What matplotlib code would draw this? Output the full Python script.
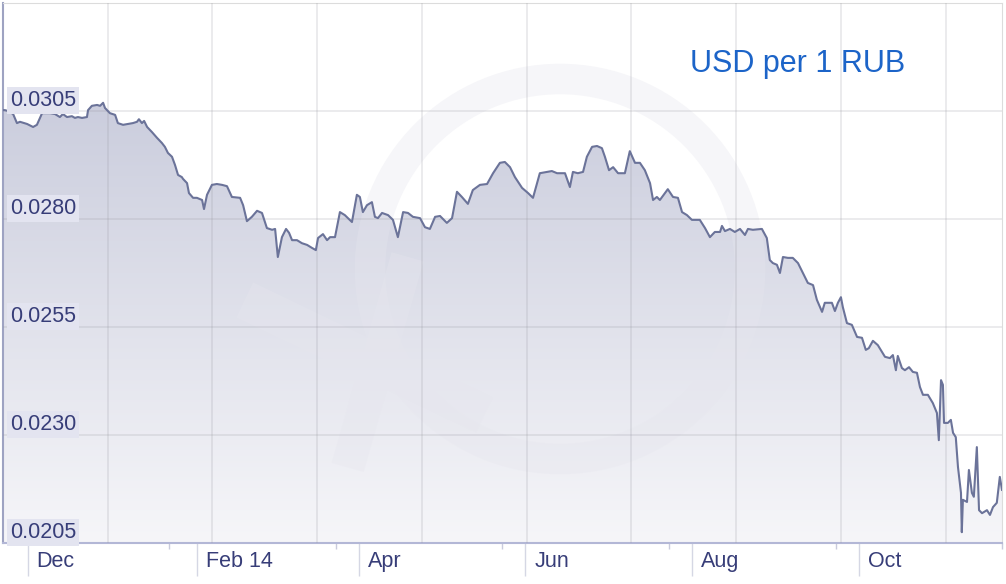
import datetime as dt
import numpy as np
import matplotlib
matplotlib.use("Agg")
import matplotlib.pyplot as plt
import matplotlib.transforms as mtransforms
from matplotlib.patches import Ellipse, Polygon
from matplotlib.colors import LinearSegmentedColormap

plt.rcParams['font.family'] = ['Liberation Sans', 'DejaVu Sans']

# data: days since 2013-11-22 and USD per 1 RUB
start = dt.date(2013, 11, 22)
days = [0, 0.7, 1.8, 3.7, 5.1, 6.2, 8.8, 11.0, 12.4, 13.5, 14.3, 15.4, 17.2, 19.0, 20.8,
        21.9, 23.4, 25.2, 26.3, 27.4, 28.9, 30.7, 31.1, 32.5, 34.4, 35.5, 36.6, 37.3, 39.1,
        41.0, 42.0, 43.9, 45.7, 47.5, 49.0, 49.7, 50.8, 51.6, 52.7, 54.5, 56.3, 58.1, 59.2,
        60.3, 61.8, 62.9, 64.0, 65.4, 65.8, 67.3, 68.0, 69.5, 70.9, 72.8, 73.5, 74.6, 76.4,
        78.2, 80.1, 81.9, 83.7, 86.7, 87.8, 89.2, 91.0, 92.9, 94.7, 96.5, 98.4, 99.5, 100.5,
        102.0, 103.5, 104.6, 105.7, 107.5, 109.3, 111.2, 113.0, 114.4, 115.2, 117.0, 118.5,
        119.6, 121.4, 123.2, 125.0, 127.6, 129.4, 130.5, 131.6, 133.1, 134.9, 136.0, 137.1,
        138.6, 140.8, 142.6, 144.4, 146.3, 148.1, 149.9, 152.5, 154.3, 156.1, 158.0, 159.8,
        162.3, 164.2, 166.0, 167.8, 170.0, 171.8, 174.4, 177.0, 179.2, 181.7, 183.5, 185.4,
        187.2, 189.8, 192.0, 193.8, 196.3, 198.9, 200.7, 202.6, 205.5, 207.3, 208.4, 210.2,
        212.1, 213.5, 215.4, 217.2, 219.0, 220.1, 221.6, 223.1, 224.9, 227.4, 229.2, 231.1,
        232.9, 234.7, 236.6, 237.7, 239.1, 240.2, 243.1, 245.0, 246.8, 248.3, 250.1, 251.9,
        254.8, 256.7, 258.5, 260.3, 262.2, 262.9, 264.0, 265.8, 267.6, 269.5, 271.3, 272.4,
        274.2, 277.5, 279.3, 280.4, 281.5, 283.0, 284.1, 285.2, 287.0, 288.8, 290.7, 292.5,
        294.3, 296.2, 297.6, 299.5, 300.5, 303.1, 304.2, 305.3, 306.4, 307.1, 308.6, 310.4,
        312.3, 314.1, 315.5, 316.6, 318.1, 319.9, 322.5, 324.3, 325.4, 326.5, 327.2, 328.7,
        329.8, 331.3, 332.7, 334.2, 335.3, 336.4, 338.2, 340.0, 341.5, 342.2, 343.0, 343.7,
        344.1, 345.5, 346.6, 347.4, 348.4, 349.2, 350.3, 350.6, 351.0, 352.5, 353.2, 354.3,
        355.0, 356.1, 356.9, 358.0, 359.8, 360.9, 362.0, 363.4, 364.5, 365.3]
rates = [0.03052, 0.03052, 0.03050, 0.03043, 0.03022, 0.03025, 0.03020, 0.03013, 0.03018,
         0.03034, 0.03045, 0.03045, 0.03045, 0.03043, 0.03036, 0.03043, 0.03036, 0.03038,
         0.03034, 0.03036, 0.03034, 0.03036, 0.03052, 0.03062, 0.03064, 0.03062, 0.03069,
         0.03057, 0.03045, 0.03041, 0.03022, 0.03018, 0.03020, 0.03022, 0.03025, 0.03031,
         0.03022, 0.03027, 0.03013, 0.03001, 0.02988, 0.02976, 0.02967, 0.02953, 0.02944,
         0.02925, 0.02902, 0.02897, 0.02893, 0.02883, 0.02860, 0.02849, 0.02849, 0.02844,
         0.02823, 0.02856, 0.02879, 0.02881, 0.02879, 0.02876, 0.02851, 0.02849, 0.02832,
         0.02795, 0.02805, 0.02819, 0.02814, 0.02779, 0.02775, 0.02777, 0.02712, 0.02758,
         0.02777, 0.02768, 0.02751, 0.02751, 0.02744, 0.02740, 0.02733, 0.02728, 0.02756,
         0.02765, 0.02751, 0.02758, 0.02758, 0.02816, 0.02809, 0.02793, 0.02856, 0.02851,
         0.02816, 0.02832, 0.02839, 0.02805, 0.02802, 0.02814, 0.02809, 0.02798, 0.02758,
         0.02816, 0.02814, 0.02805, 0.02802, 0.02781, 0.02777, 0.02805, 0.02807, 0.02791,
         0.02802, 0.02863, 0.02851, 0.02835, 0.02867, 0.02879, 0.02881, 0.02906, 0.02930,
         0.02932, 0.02920, 0.02897, 0.02872, 0.02860, 0.02849, 0.02906, 0.02909, 0.02911,
         0.02906, 0.02906, 0.02874, 0.02909, 0.02906, 0.02909, 0.02944, 0.02967, 0.02969,
         0.02964, 0.02944, 0.02913, 0.02920, 0.02906, 0.02906, 0.02957, 0.02930, 0.02930,
         0.02913, 0.02883, 0.02844, 0.02851, 0.02844, 0.02869, 0.02851, 0.02849, 0.02816,
         0.02809, 0.02798, 0.02798, 0.02779, 0.02758, 0.02770, 0.02770, 0.02784, 0.02772,
         0.02777, 0.02770, 0.02777, 0.02763, 0.02777, 0.02775, 0.02777, 0.02756, 0.02705,
         0.02698, 0.02694, 0.02675, 0.02712, 0.02710, 0.02710, 0.02698, 0.02675, 0.02652,
         0.02647, 0.02613, 0.02585, 0.02606, 0.02606, 0.02587, 0.02606, 0.02619, 0.02596,
         0.02559, 0.02555, 0.02527, 0.02525, 0.02497, 0.02501, 0.02518, 0.02508, 0.02481,
         0.02478, 0.02485, 0.02450, 0.02483, 0.02455, 0.02450, 0.02457, 0.02446, 0.02444,
         0.02411, 0.02393, 0.02393, 0.02374, 0.02351, 0.02288, 0.02427, 0.02416, 0.02328,
         0.02328, 0.02335, 0.02305, 0.02295, 0.02226, 0.02166, 0.02075, 0.02150, 0.02145,
         0.02219, 0.02166, 0.02157, 0.02272, 0.02126, 0.02119, 0.02126, 0.02115, 0.02133,
         0.02143, 0.02203, 0.02173]

ytick_values = [0.0205, 0.0230, 0.0255, 0.0280, 0.0305]
ytick_labels = ["0.0205", "0.0230", "0.0255", "0.0280", "0.0305"]
month_dates = [dt.date(2013, 12, 1), dt.date(2014, 2, 1), dt.date(2014, 4, 1),
               dt.date(2014, 6, 1), dt.date(2014, 8, 1), dt.date(2014, 10, 1)]
month_labels = ["Dec", "Feb 14", "Apr", "Jun", "Aug", "Oct"]
title = "USD per 1 RUB"

x_end = 365.3
y_min, y_max = 0.0205, 0.0330
text_col = '#373d78'

fig = plt.figure(figsize=(10.06, 5.84), dpi=100)
ax = fig.add_axes([3 / 1006, 41 / 584, 999 / 1006, 540 / 584])

# gradient fill under the line
verts = [(days[0], y_min)] + list(zip(days, rates)) + [(days[-1], y_min)]
poly = Polygon(verts, closed=True, facecolor='none', edgecolor='none')
ax.add_patch(poly)
cmap = LinearSegmentedColormap.from_list('fill', ['#f6f6f9', '#c1c4d7'])
grad = np.linspace(1, 0, 256).reshape(-1, 1)
im = ax.imshow(grad, extent=(0, x_end, y_min, y_max), aspect='auto', cmap=cmap,
               vmin=0, vmax=1, origin='upper', zorder=1)
im.set_clip_path(poly)

# faint xe watermark
wm = dict(color='#e6e6ee', alpha=0.35, zorder=2)
ax.add_patch(Ellipse((0.5576, 0.5074), 0.3804, 0.7037, transform=ax.transAxes,
                     fill=False, lw=22, ec=wm['color'], alpha=wm['alpha'], zorder=2))
ax.plot([0.242, 0.482], [0.45, 0.237], transform=ax.transAxes, lw=28,
        solid_capstyle='butt', **wm)
ax.plot([0.345, 0.405], [0.14, 0.53], transform=ax.transAxes, lw=24,
        solid_capstyle='butt', **wm)

# grid
for v in ytick_values[1:]:
    ax.axhline(v, color='#9696a0', alpha=0.22, lw=1.2, zorder=3)
for k in range(1, 10):
    ax.axvline(38.3 * k, color='#9696a0', alpha=0.22, lw=1.2, zorder=3)

ax.plot(days, rates, color='#6b7399', lw=1.5, zorder=4)

ax.set_xlim(0, x_end)
ax.set_ylim(y_min, y_max)
ax.set_yticks([])

# x ticks and labels
month_pos = [(d - start).days for d in month_dates]
ax.set_xticks(month_pos)
ax.set_xticklabels([])
ax.set_xticks([x_end * k / 6 for k in range(1, 7)], minor=True)
ax.tick_params(axis='x', which='major', length=24, width=1, color='#d5d7e4')
ax.tick_params(axis='x', which='minor', length=4, width=1, color='#c9cbdc')

xtrans = mtransforms.offset_copy(ax.get_xaxis_transform(), fig=fig, x=9, y=0, units='dots')
for pos, lab in zip(month_pos, month_labels):
    ax.text(pos, -0.0444, lab, transform=xtrans, ha='left', va='baseline',
            fontsize=15.5, color=text_col)

ytrans = mtransforms.offset_copy(ax.get_yaxis_transform(), fig=fig, x=0, y=5, units='dots')
for v, lab in zip(ytick_values, ytick_labels):
    ax.text(0.007, v, lab, transform=ytrans, ha='left', va='baseline', fontsize=15.5,
            color=text_col, zorder=6,
            bbox=dict(boxstyle='square,pad=0.15', fc='#e3e4f0', ec='none'))

ax.text(0.6877, 0.8722, title, transform=ax.transAxes, ha='left', va='baseline',
        fontsize=22, color='#1c64c8', zorder=6)

for s in ['top', 'right']:
    ax.spines[s].set_color('#dcdcdc')
ax.spines['left'].set_color('#9ea3c2')
ax.spines['left'].set_linewidth(1.5)
ax.spines['bottom'].set_color('#b3b7d6')
ax.spines['bottom'].set_linewidth(1.5)

fig.savefig('out.png', dpi=100)
